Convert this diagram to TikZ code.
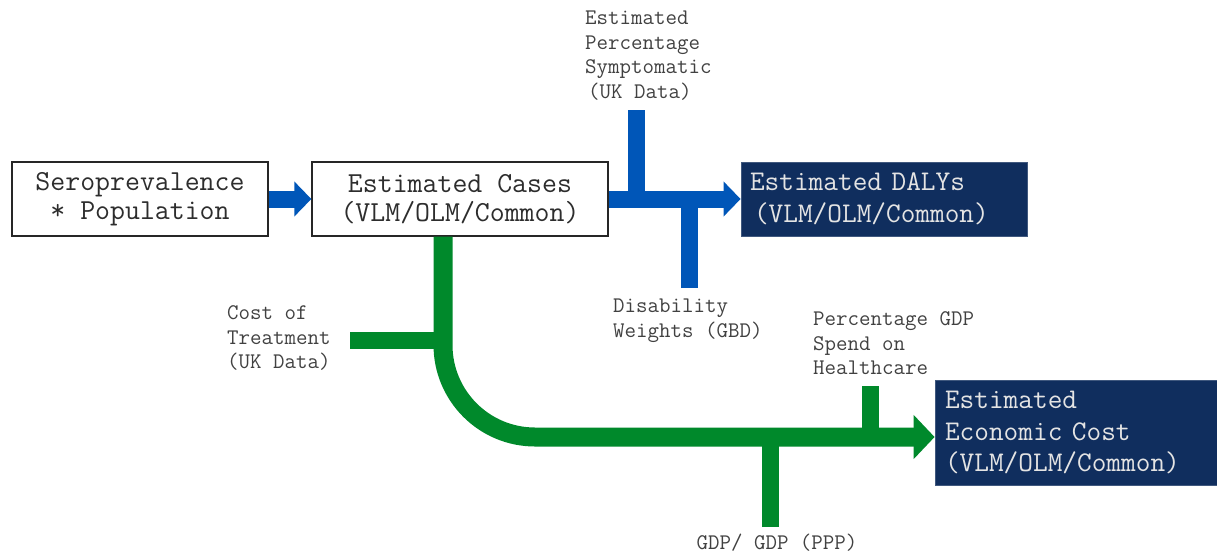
\documentclass[tikz,border=0pt]{standalone}
\usetikzlibrary{arrows.meta,calc}
\definecolor{flowblue}{RGB}{0,86,184}
\definecolor{flowgreen}{RGB}{0,137,43}
\definecolor{navy}{RGB}{16,46,94}
\definecolor{navytext}{RGB}{228,228,228}
\definecolor{inktext}{RGB}{45,45,45}
\definecolor{lbltext}{RGB}{65,65,65}
\tikzset{
  whitebox/.style={draw=black!85, line width=1.3pt, fill=white, inner sep=0pt,
    align=center, text=inktext, font=\ttfamily\fontsize{29}{29}\selectfont},
  navybox/.style={draw=navy!80!white, line width=0.8pt, fill=navy, inner sep=0pt,
    text=navytext, font=\ttfamily\fontsize{28.5}{31.5}\selectfont},
  lbl/.style={inner sep=0pt, align=left, text=lbltext, font=\ttfamily\fontsize{22.3}{24.5}\selectfont},
  blueflow/.style={draw=flowblue, line width=17pt},
  bluearrow/.style={blueflow, -{Triangle[length=17pt,width=34pt]}},
  greenflow/.style={draw=flowgreen, line width=17pt},
  greenarrow/.style={draw=flowgreen, line width=19pt, rounded corners=92pt, -{Triangle[length=21pt,width=43pt]}},
}
\begin{document}
\begin{tikzpicture}[x=1pt,y=-1pt]
\useasboundingbox (0,0) rectangle (1217,555);

% boxes
\node[whitebox, minimum width=256pt, minimum height=74pt] (sero) at (140,199) {Seroprevalence\\* Population};
\node[whitebox, minimum width=296pt, minimum height=74pt] (cases) at (460,199) {Estimated Cases\\(VLM/OLM/Common)};
\node[navybox, minimum width=286pt, minimum height=74pt, text width=268pt, align=left] (dalys) at (884,199) {Estimated DALYs\\\hspace*{4pt}(VLM/OLM/Common)};
\node[navybox, minimum width=282pt, minimum height=105pt, text width=262pt, align=left] (econ) at (1076,432.5) {Estimated\\Economic Cost\\(VLM/OLM/Common)};

% labels
\node[lbl, anchor=west] (symp) at (585,55.5) {Estimated\\Percentage\\Symptomatic\\\hspace*{3pt}(UK Data)};
\node[lbl, anchor=west] (disab) at (613,320.5) {Disability\\Weights (GBD)};
\node[lbl, anchor=west] (cost) at (227,338) {Cost of\\Treatment\\(UK Data)};
\node[lbl, anchor=west] (pgdp) at (813,343.5) {Percentage GDP\\Spend on\\Healthcare};
\node[lbl, anchor=center] (gdp) at (777,543) {GDP/ GDP (PPP)};

% junction points and free ends of inputs
\coordinate (gtop) at ([xshift=-17pt]cases.south);
\coordinate (gin) at ([yshift=-4.5pt]econ.west);
\coordinate (sympend) at (636,110);
\coordinate (disend) at (689.5,288);
\coordinate (costend) at (350,340);
\coordinate (pgdpend) at (870.5,386);
\coordinate (gdpend) at (770.5,527);

% blue flows
\draw[bluearrow] (sero.east) -- (cases.west);
\draw[blueflow] (sympend) -- (sympend |- cases.east);
\draw[blueflow] (disend) -- (disend |- cases.east);
\draw[bluearrow] (cases.east) -- (dalys.west);

% green flows
\draw[greenflow] (costend) -- (costend -| gtop);
\draw[greenflow] (pgdpend) -- (pgdpend |- gin);
\draw[greenflow] (gdpend) -- (gdpend |- gin);
\draw[greenarrow] (gtop) |- (gin);
\end{tikzpicture}
\end{document}
